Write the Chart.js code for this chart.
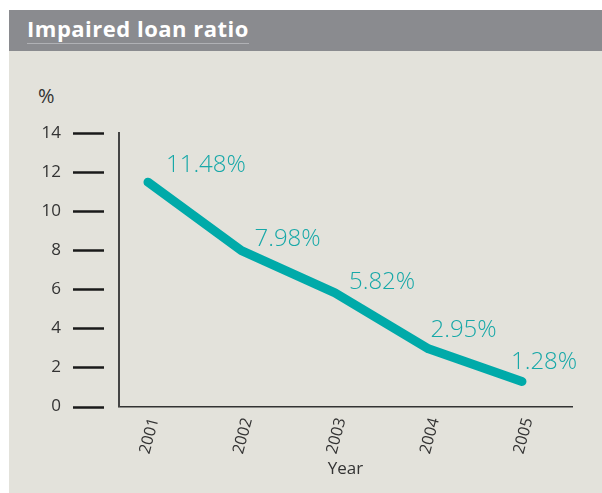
<!DOCTYPE html>
<html>
<head>
<meta charset="utf-8">
<script src="https://cdn.jsdelivr.net/npm/chart.js@4.4.1/dist/chart.umd.min.js"></script>
<style>
  html,body{margin:0;padding:0;background:#fff;}
  body{width:602px;height:493px;position:relative;overflow:hidden;font-family:'Open Sans',sans-serif;}
  #panel{position:absolute;left:9px;top:10px;right:0;bottom:0;background:#e3e2db;}
  #head{position:absolute;left:9px;top:10px;right:0;height:41px;background:#8a8b8f;}
  #head span{position:absolute;left:18px;top:5px;color:#fff;font-weight:700;font-size:22px;line-height:27px;
    letter-spacing:0.5px;border-bottom:1px solid #b0b1b5;padding-bottom:1px;}
  #unit{position:absolute;left:38px;top:82px;font-size:20px;color:#333;}
  #cv{position:absolute;left:0;top:0;}
</style>
</head>
<body>
<div id="panel"></div>
<div id="head"><span>Impaired loan ratio</span></div>
<div id="unit">%</div>
<canvas id="cv" width="602" height="493"></canvas>
<script>
'use strict';
// ── DATA ──────────────────────────────────────────────────────
const years = [2001, 2002, 2003, 2004, 2005];
const ratio = [11.48, 7.98, 5.82, 2.95, 1.28];
const yTicks = [0, 2, 4, 6, 8, 10, 12, 14];

// label nudges (px, from point to text baseline-left)
const nudge = [[18,-10],[13,-5],[14,-4],[2,-12],[-11,-12]];

const TEAL = '#00aaa9';
const INK = '#333';

// ── PLUGIN: tick marks, x labels, value labels ────────────────
const decor = {
  id:'decor',
  afterDraw(chart){
    const {ctx, scales:{x, y}, chartArea:ca} = chart;
    ctx.save();
    // y tick marks, detached from axis
    ctx.strokeStyle = '#1a1a1a'; ctx.lineWidth = 2.5;
    yTicks.forEach(v => {
      const py = Math.round(y.getPixelForValue(v)) + 0.5;
      ctx.beginPath(); ctx.moveTo(ca.left - 46, py); ctx.lineTo(ca.left - 15, py); ctx.stroke();
    });
    // rotated year labels
    ctx.fillStyle = INK; ctx.font = '16px "Open Sans"';
    ctx.textAlign = 'center'; ctx.textBaseline = 'middle';
    years.forEach(yr => {
      ctx.save();
      ctx.translate(x.getPixelForValue(yr) + 1.5, ca.bottom + 29.5);
      ctx.rotate(-75 * Math.PI / 180);
      ctx.fillText(String(yr), 0, 0);
      ctx.restore();
    });
    // axis title
    ctx.font = '17px "Open Sans"';
    ctx.fillText('Year', (ca.left + ca.right) / 2, ca.bottom + 63);
    // value labels
    ctx.fillStyle = '#17a8a8'; ctx.font = '300 24px "Open Sans"';
    ctx.textAlign = 'left'; ctx.textBaseline = 'alphabetic';
    ratio.forEach((v, i) => {
      const px = x.getPixelForValue(years[i]), py = y.getPixelForValue(v);
      ctx.fillText(v.toFixed(2) + '%', px + nudge[i][0], py + nudge[i][1]);
    });
    ctx.restore();
  }
};

// ── CHART ─────────────────────────────────────────────────────
new Chart(document.getElementById('cv').getContext('2d'), {
  type:'line',
  data:{
    datasets:[{
      data: years.map((yr, i) => ({x:yr, y:ratio[i]})),
      borderColor: TEAL,
      borderWidth: 9,
      borderCapStyle:'round',
      borderJoinStyle:'round',
      pointRadius: 0,
      tension: 0
    }]
  },
  options:{
    responsive:false,
    animation:false,
    layout:{ padding:{left:0, top:133, right:30, bottom:0} },
    plugins:{ legend:{display:false}, tooltip:{enabled:false} },
    scales:{
      x:{
        type:'linear', min:2000.69, max:2005.535,
        grid:{display:false, drawTicks:false},
        border:{display:true, color:'#333', width:1.5},
        ticks:{display:false},
        afterFit: s => { s.height = 86.5; }
      },
      y:{
        min:0, max:14,
        afterBuildTicks: s => { s.ticks = yTicks.map(v => ({value:v})); },
        grid:{display:false, drawTicks:false},
        border:{display:true, color:'#444', width:2},
        ticks:{ padding:58, color:INK, font:{family:'Open Sans', size:17} },
        afterFit: s => { s.width = 119; }
      }
    }
  },
  plugins:[decor]
});
</script>
</body>
</html>
